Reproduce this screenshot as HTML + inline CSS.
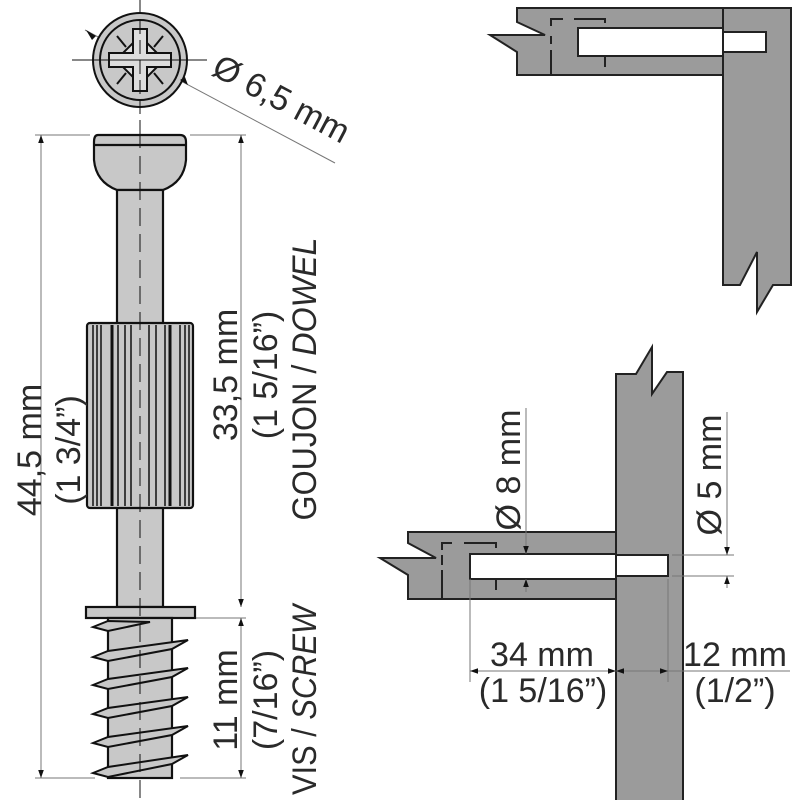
<!DOCTYPE html>
<html><head><meta charset="utf-8"><style>html,body{margin:0;padding:0;background:#fff}svg{display:block}text{font-family:"Liberation Sans",sans-serif;fill:#2a2a2a}</style></head>
<body>
<svg width="800" height="800" viewBox="0 0 800 800" xmlns="http://www.w3.org/2000/svg">
<defs>
<marker id="a" viewBox="0 0 10 10" refX="10" refY="5" markerWidth="8" markerHeight="8" orient="auto-start-reverse" markerUnits="userSpaceOnUse"><path d="M0,1.5 L10,5 L0,8.5z" fill="#111"/></marker>
</defs>
<g stroke="#777" stroke-width="1" fill="none">
<line x1="35" y1="135" x2="90" y2="135"/><line x1="35" y1="778" x2="95" y2="778"/>
<line x1="190" y1="135" x2="246" y2="135"/><line x1="196" y1="618" x2="246" y2="618"/><line x1="180" y1="778" x2="246" y2="778"/>
<line x1="41" y1="135" x2="41" y2="778" marker-start="url(#a)" marker-end="url(#a)"/>
<line x1="241" y1="135" x2="241" y2="607" marker-start="url(#a)" marker-end="url(#a)"/>
<line x1="241" y1="618" x2="241" y2="778" marker-start="url(#a)" marker-end="url(#a)"/>
<line x1="85" y1="30" x2="335" y2="163"/>
</g>
<g stroke="#111" stroke-width="2" fill="#c8c8c8">
<circle cx="140" cy="60" r="47"/><circle cx="140" cy="60" r="40"/>
<polygon points="133,29 147,29 147,43 157,53 171,53 171,67 157,67 147,77 147,91 133,91 133,77 123,67 109,67 109,53 123,53 133,43" fill="#ddd"/>
<polyline points="133,43 133,53 123,53" fill="none"/><polyline points="147,43 147,53 157,53" fill="none"/>
<polyline points="133,77 133,67 123,67" fill="none"/><polyline points="147,77 147,67 157,67" fill="none"/>
<line x1="117" y1="36" x2="126" y2="47"/><line x1="163" y1="36" x2="154" y2="47"/><line x1="117" y1="84" x2="126" y2="73"/><line x1="163" y1="84" x2="154" y2="73"/>
</g>
<g stroke="#111" stroke-width="1"><line x1="72" y1="60" x2="207" y2="60"/><line x1="140" y1="0" x2="140" y2="130" stroke-dasharray="14,6"/></g>
<path d="M86,30 L96,36 L92,40z M188,85 L180,80 L185,77z" fill="#111"/>
<text transform="translate(276,109) rotate(28)" font-size="34" text-anchor="middle">Ø 6,5 mm</text>
<g stroke="#111" stroke-width="2.2" fill="#c8c8c8">
<path d="M98,135 H180 Q186,135 186,142 L186,160 Q184,182 163,190 H117 Q96,182 94,160 L94,142 Q94,135 98,135Z"/>
<line x1="94" y1="145" x2="186" y2="145"/>
<rect x="117" y="190" width="46" height="417"/>
<rect x="87" y="323" width="106" height="185" rx="3"/>
<rect x="86" y="607" width="109" height="11"/>
<rect x="108" y="618" width="64" height="160"/>
</g>
<g stroke="#111" stroke-width="1.5">
<line x1="93" y1="325" x2="93" y2="506"/><line x1="97" y1="325" x2="97" y2="506"/><line x1="101" y1="325" x2="101" y2="506"/>
<line x1="112" y1="325" x2="112" y2="506" stroke-width="3"/><line x1="118" y1="325" x2="118" y2="506"/><line x1="125" y1="325" x2="125" y2="506"/><line x1="131" y1="325" x2="131" y2="506"/>
<line x1="149" y1="325" x2="149" y2="506"/><line x1="156" y1="325" x2="156" y2="506"/><line x1="165" y1="325" x2="165" y2="506"/><line x1="170" y1="325" x2="170" y2="506" stroke-width="3"/>
<line x1="180" y1="325" x2="180" y2="506"/><line x1="185" y1="325" x2="185" y2="506"/><line x1="189" y1="325" x2="189" y2="506"/>
</g>
<g stroke="#111" stroke-width="2" fill="#c8c8c8">
<polygon points="93,627 108,621 150,622 108,631"/>
<polygon points="93,657 108,651 188,640 172,649 108,661"/>
<polygon points="93,685 108,679 188,668 172,677 108,689"/>
<polygon points="93,714 108,708 188,697 172,706 108,718"/>
<polygon points="93,743 108,737 188,726 172,735 108,747"/>
<polygon points="93,773 108,767 188,755 172,764 108,777"/>
</g>
<line x1="140" y1="130" x2="140" y2="800" stroke="#111" stroke-width="1" stroke-dasharray="18,8"/>
<g font-size="34" text-anchor="middle">
<text transform="translate(41,450) rotate(-90)">44,5 mm</text>
<text transform="translate(80,450) rotate(-90)">(1 3/4”)</text>
<text transform="translate(237,375) rotate(-90)">33,5 mm</text>
<text transform="translate(277,375) rotate(-90)">(1 5/16”)</text>
<text transform="translate(316,379) rotate(-90)" textLength="283" lengthAdjust="spacingAndGlyphs">GOUJON / <tspan font-style="italic">DOWEL</tspan></text>
<text transform="translate(237,700) rotate(-90)">11 mm</text>
<text transform="translate(277,700) rotate(-90)">(7/16”)</text>
<text transform="translate(316,700) rotate(-90)" textLength="190" lengthAdjust="spacingAndGlyphs">VIS / <tspan font-style="italic">SCREW</tspan></text>
</g>
<g stroke="#222" stroke-width="2" fill="#9b9b9b">
<polygon points="517,8 723,8 723,75 517,75 517,52 490,35 545,35 517,22"/>
<polygon points="723,8 791,8 791,285 773,285 757,312 757,252 740,285 723,285"/>
<rect x="578" y="28" width="145" height="28" fill="#fff"/>
<rect x="723" y="32" width="43" height="20" fill="#fff"/>
</g>
<g stroke="#222" stroke-width="2" fill="none"><path d="M551,26 V19 H563 M574,19 H605 V23 M551,36 V44 M551,50 V75 M605,56 V67"/></g>
<g stroke="#222" stroke-width="2" fill="#9b9b9b">
<polygon points="616,374 636,374 652,347 652,394 667,372 683,372 683,802 616,802"/>
<polygon points="408,532 616,532 616,599 408,599 408,575 380,558 436,558 408,543"/>
<rect x="470" y="554" width="146" height="25" fill="#fff"/>
<rect x="616" y="555" width="52" height="21" fill="#fff"/>
</g>
<g stroke="#222" stroke-width="2" fill="none"><path d="M442,550 V543 H452 M464,543 H496 V548 M442,555 V565 M442,570 V599 M496,579 V590"/></g>
<g stroke="#777" stroke-width="1" fill="none">
<line x1="526" y1="408" x2="526" y2="554" marker-end="url(#a)"/>
<line x1="526" y1="592" x2="526" y2="579" marker-end="url(#a)"/>
<line x1="672" y1="555" x2="734" y2="555"/><line x1="672" y1="576" x2="734" y2="576"/>
<line x1="727" y1="412" x2="727" y2="555" marker-end="url(#a)"/>
<line x1="727" y1="588" x2="727" y2="576" marker-end="url(#a)"/>
<line x1="470" y1="579" x2="470" y2="682"/><line x1="668" y1="579" x2="668" y2="682"/>
<line x1="470" y1="671" x2="616" y2="671" marker-start="url(#a)" marker-end="url(#a)"/>
<line x1="616" y1="671" x2="668" y2="671" marker-start="url(#a)" marker-end="url(#a)"/>
<line x1="668" y1="671" x2="790" y2="671"/>
</g>
<g font-size="34" text-anchor="middle">
<text transform="translate(520,470) rotate(-90)">Ø 8 mm</text>
<text transform="translate(721,475) rotate(-90)">Ø 5 mm</text>
<text x="542" y="666">34 mm</text>
<text x="543" y="702">(1 5/16”)</text>
<text x="735" y="666">12 mm</text>
<text x="735" y="702">(1/2”)</text>
</g>
</svg>
</body></html>
